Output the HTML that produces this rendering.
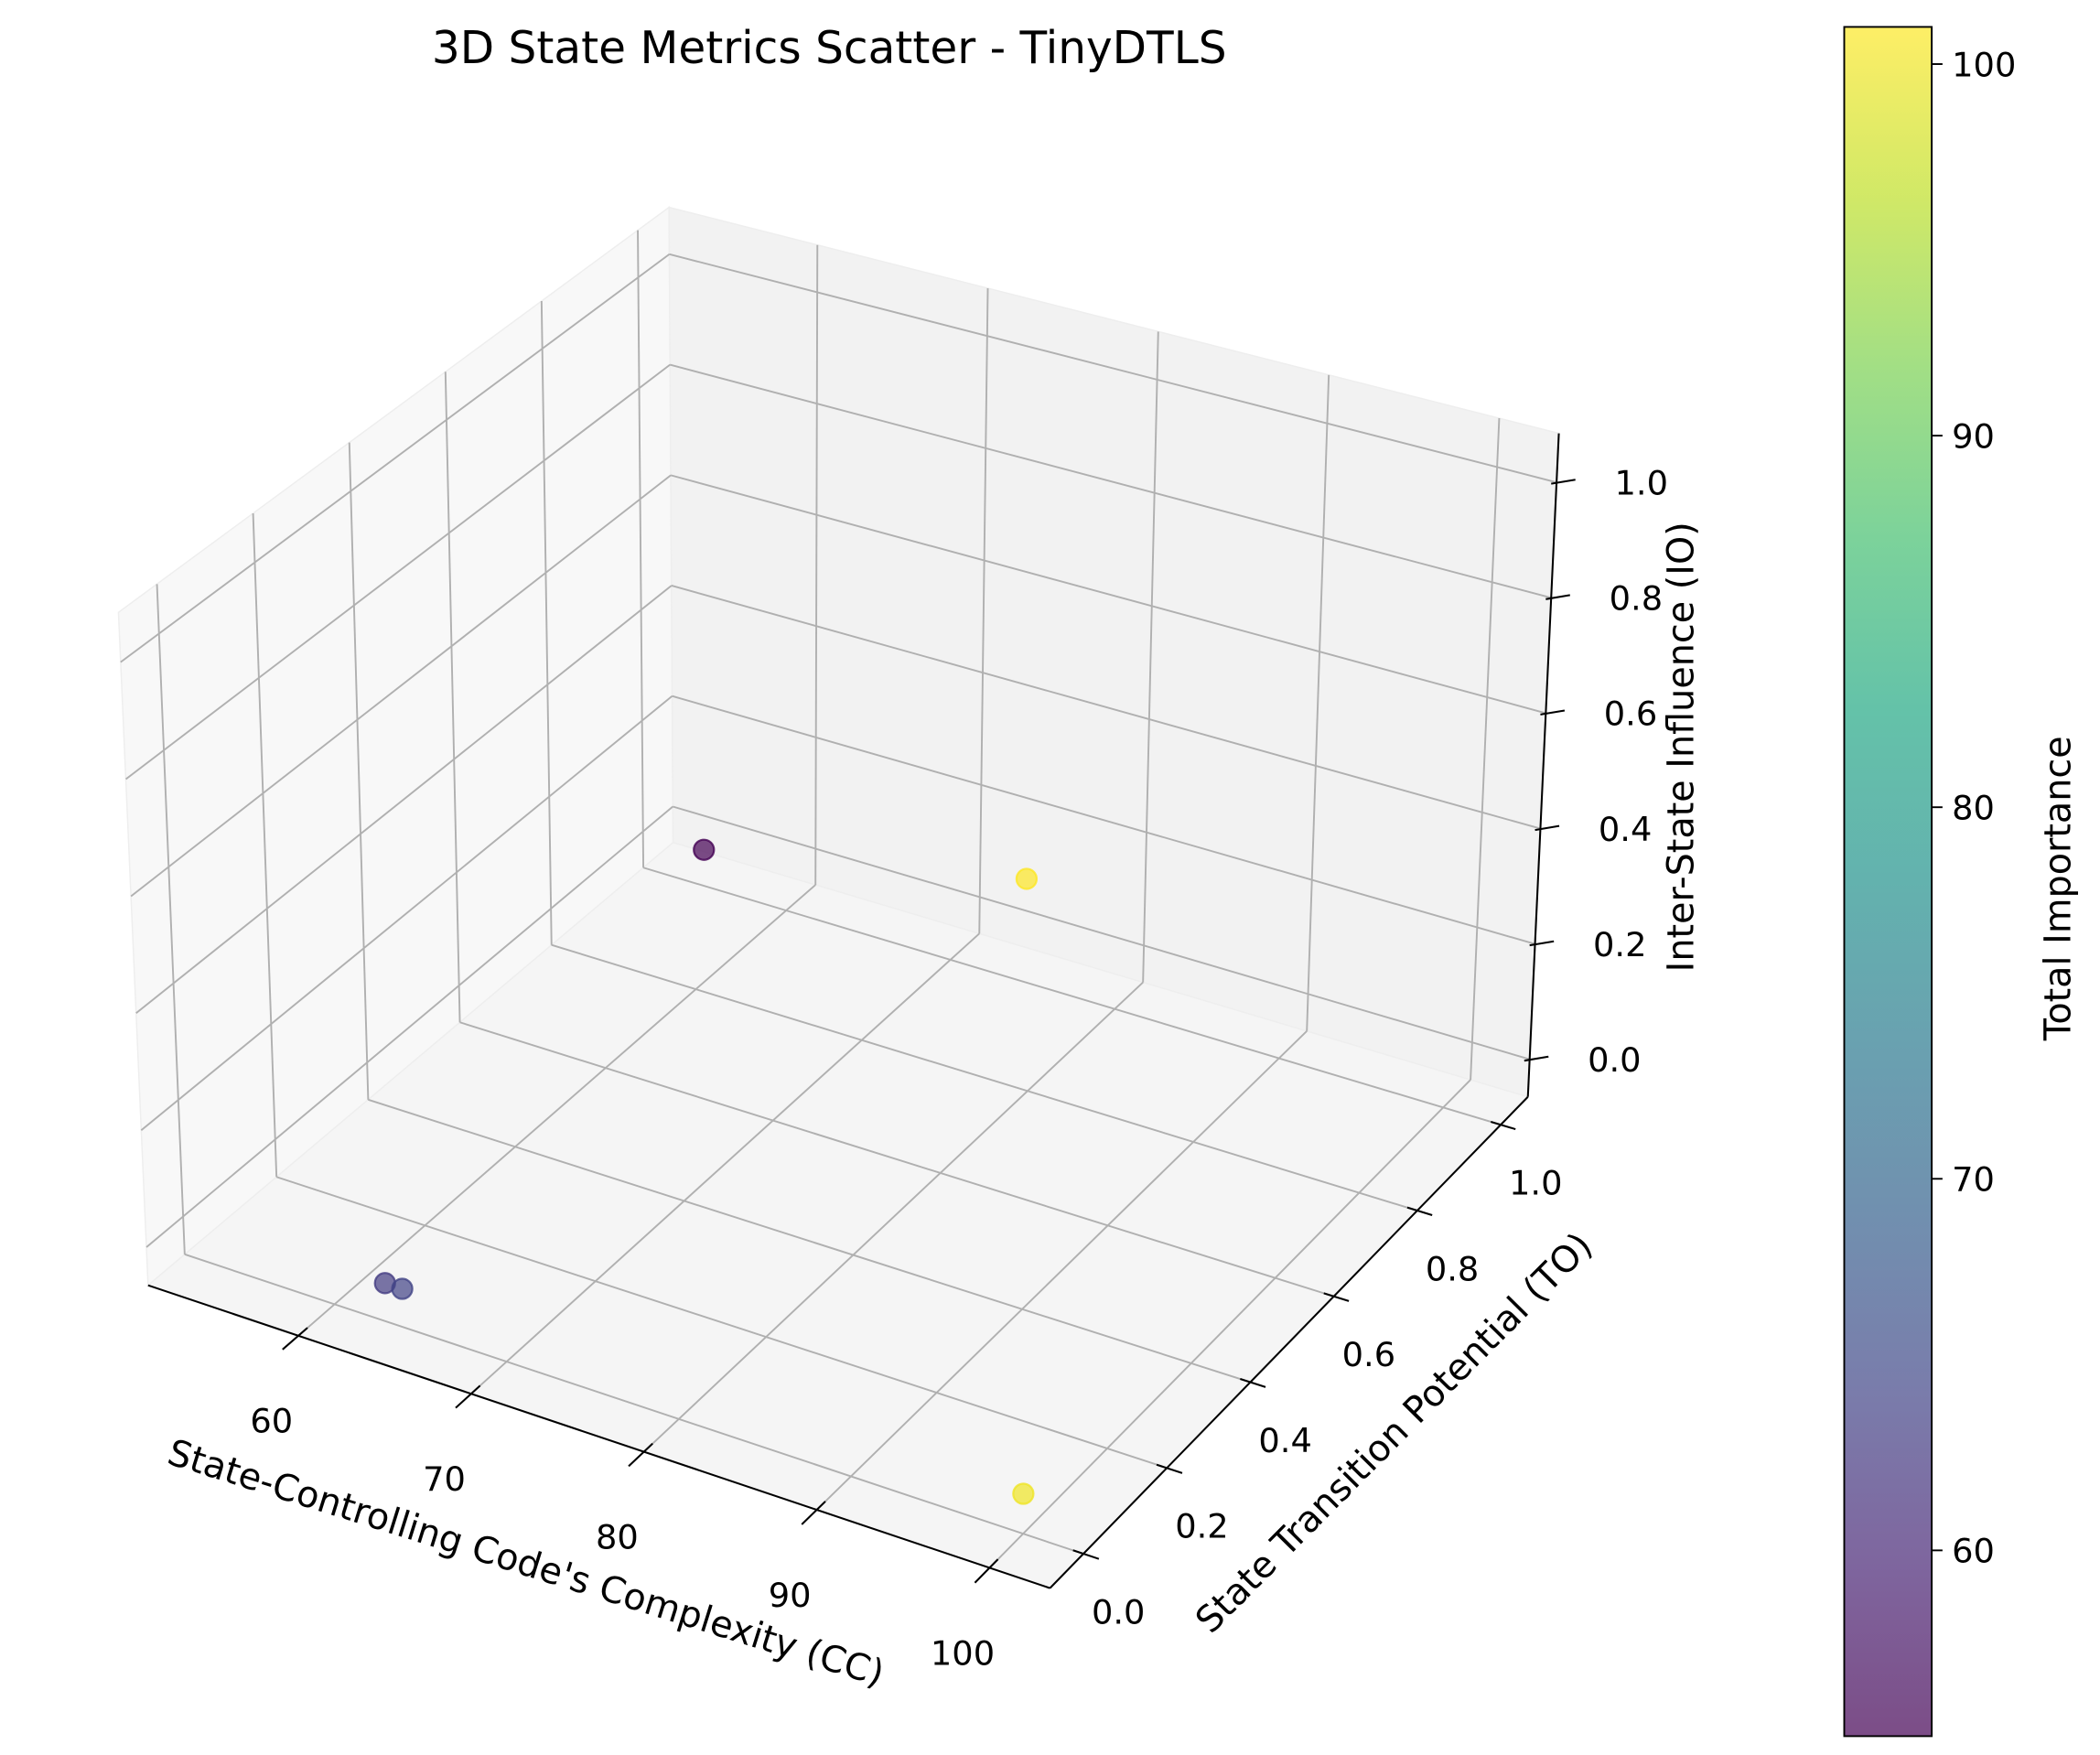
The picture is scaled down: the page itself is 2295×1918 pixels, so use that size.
<!DOCTYPE html>
<html><head><meta charset="utf-8"><title>3D State Metrics Scatter - TinyDTLS</title>
<style>html,body{margin:0;padding:0;background:#fff}svg{display:block}text{font-family:"DejaVu Sans","Liberation Sans",sans-serif;fill:#000}</style>
</head><body>
<svg id="chart" xmlns="http://www.w3.org/2000/svg" width="2295" height="1918" viewBox="0 0 1560 1304" preserveAspectRatio="none">
<defs>
<linearGradient id="viridis" x1="0" y1="1" x2="0" y2="0">
<stop offset="0" stop-color="#440154"/><stop offset="0.1" stop-color="#482475"/><stop offset="0.2" stop-color="#414487"/><stop offset="0.3" stop-color="#355f8d"/><stop offset="0.4" stop-color="#2a788e"/><stop offset="0.5" stop-color="#21918c"/><stop offset="0.6" stop-color="#22a884"/><stop offset="0.7" stop-color="#44bf70"/><stop offset="0.8" stop-color="#7ad151"/><stop offset="0.9" stop-color="#bddf26"/><stop offset="1" stop-color="#fde725"/>
</linearGradient>
</defs>
<text x="616" y="47" font-size="33" text-anchor="middle">3D State Metrics Scatter - TinyDTLS</text>
<g id="panes"></g><g id="grid"></g><g id="axes"></g><g id="points"></g>
<text font-size="27" text-anchor="middle" transform="translate(388,1170) rotate(17.4)">State-Controlling Code's Complexity (CC)</text>
<text font-size="27" text-anchor="middle" transform="translate(1042,1071) rotate(-45.3)">State Transition Potential (TO)</text>
<text font-size="27" text-anchor="middle" transform="translate(1258,555) rotate(-90)">Inter-State Influence (IO)</text>
<rect x="1370" y="20" width="65" height="1270" fill="url(#viridis)" fill-opacity="0.7" stroke="#000" stroke-width="1.3"/>
<g id="cbticks"></g>
<text font-size="27" text-anchor="middle" transform="translate(1538,660) rotate(-90)">Total Importance</text>
</svg>
<script>
const cc = [55, 63, 64, 100, 100];
const to = [1.0, 0.0, 0.0, 0.0, 0.0];
const io = [0.0, 0.0, 0.0, 1.0, 0.0];
const total = [55, 63, 64, 101, 100];
const xTicks = [60, 70, 80, 90, 100];
const yTicks = [0.0, 0.2, 0.4, 0.6, 0.8, 1.0];
const zTicks = [0.0, 0.2, 0.4, 0.6, 0.8, 1.0];
const cbTicks = [60, 70, 80, 90, 100];

const XL=[51.3,103.5], YL=[-0.08,1.065], ZL=[-0.065,1.085];
const C = {
 b00:[110,955], b10:[780,1180], b11:[1135,815], b01:[500,626],
 t00:[88,455], t10:[783,650], t11:[1158,322], t01:[497,154]
};
function bil(a,b,c,d,u,v){
 return [a[0]*(1-u)*(1-v)+b[0]*u*(1-v)+c[0]*u*v+d[0]*(1-u)*v,
         a[1]*(1-u)*(1-v)+b[1]*u*(1-v)+c[1]*u*v+d[1]*(1-u)*v];
}
function P(x,y,z){
 const u=(x-XL[0])/(XL[1]-XL[0]), v=(y-YL[0])/(YL[1]-YL[0]), w=(z-ZL[0])/(ZL[1]-ZL[0]);
 const f=bil(C.b00,C.b10,C.b11,C.b01,u,v), t=bil(C.t00,C.t10,C.t11,C.t01,u,v);
 return [f[0]*(1-w)+t[0]*w, f[1]*(1-w)+t[1]*w];
}
const NS='http://www.w3.org/2000/svg';
function el(tag,attrs,parent){const e=document.createElementNS(NS,tag);for(const k in attrs)e.setAttribute(k,attrs[k]);parent.appendChild(e);return e;}
function poly(pts){return pts.map(p=>p[0].toFixed(1)+','+p[1].toFixed(1)).join(' ');}
const panes=document.getElementById('panes'), grid=document.getElementById('grid'), axes=document.getElementById('axes'), pts=document.getElementById('points'), cbt=document.getElementById('cbticks');

let e;
e=el('polygon',{points:poly([P(XL[0],YL[0],ZL[0]),P(XL[0],YL[1],ZL[0]),P(XL[0],YL[1],ZL[1]),P(XL[0],YL[0],ZL[1])]),fill:'#f8f8f8',stroke:'#eeeeee','stroke-width':1},panes);

e=el('polygon',{points:poly([P(XL[0],YL[1],ZL[0]),P(XL[1],YL[1],ZL[0]),P(XL[1],YL[1],ZL[1]),P(XL[0],YL[1],ZL[1])]),fill:'#f2f2f2',stroke:'#eeeeee','stroke-width':1},panes);

e=el('polygon',{points:poly([P(XL[0],YL[0],ZL[0]),P(XL[1],YL[0],ZL[0]),P(XL[1],YL[1],ZL[0]),P(XL[0],YL[1],ZL[0])]),fill:'#f5f5f5',stroke:'#eeeeee','stroke-width':1},panes);


function gl(pa,pb,name){const l=el('polyline',{points:poly([pa,pb]),fill:'none',stroke:'#b0b0b0','stroke-width':1.3},grid);}
xTicks.forEach(x=>{gl(P(x,YL[0],ZL[0]),P(x,YL[1],ZL[0]),'x-gridline');gl(P(x,YL[1],ZL[0]),P(x,YL[1],ZL[1]),'x-gridline');});
yTicks.forEach(y=>{gl(P(XL[0],y,ZL[0]),P(XL[1],y,ZL[0]),'y-gridline');gl(P(XL[0],y,ZL[0]),P(XL[0],y,ZL[1]),'y-gridline');});
zTicks.forEach(z=>{gl(P(XL[0],YL[0],z),P(XL[0],YL[1],z),'z-gridline');gl(P(XL[0],YL[1],z),P(XL[1],YL[1],z),'z-gridline');});

function ax(pa,pb,name){const l=el('polyline',{points:poly([pa,pb]),fill:'none',stroke:'#000','stroke-width':1.4},axes);}
ax(P(XL[0],YL[0],ZL[0]),P(XL[1],YL[0],ZL[0]),'x-axis-line');
ax(P(XL[1],YL[0],ZL[0]),P(XL[1],YL[1],ZL[0]),'y-axis-line');
ax(P(XL[1],YL[1],ZL[0]),P(XL[1],YL[1],ZL[1]),'z-axis-line');
function lbl(p,txt,name,anchor){const t=el('text',{x:p[0].toFixed(1),y:p[1].toFixed(1),'font-size':25,'text-anchor':anchor||'middle'},axes);t.textContent=txt;}
xTicks.forEach(x=>{ax(P(x,YL[0]-0.035,ZL[0]),P(x,YL[0]+0.02,ZL[0]),'x-tick');const p=P(x,YL[0],ZL[0]);lbl([p[0]-20,p[1]+72],String(x),'x-tick-label');});
yTicks.forEach(y=>{ax(P(XL[1]-0.6,y,ZL[0]),P(XL[1]+0.9,y,ZL[0]),'y-tick');const p=P(XL[1],y,ZL[0]);lbl([p[0]+26,p[1]+52],y.toFixed(1),'y-tick-label');});
zTicks.forEach(z=>{const p=P(XL[1],YL[1],z);ax([p[0]-4,p[1]+1],[p[0]+14,p[1]-2],'z-tick');lbl([p[0]+63,p[1]+9],z.toFixed(1),'z-tick-label');});

const vir=['#440154','#482475','#414487','#355f8d','#2a788e','#21918c','#22a884','#44bf70','#7ad151','#bddf26','#fde725'];
function hx(h){return[parseInt(h.substr(1,2),16),parseInt(h.substr(3,2),16),parseInt(h.substr(5,2),16)];}
function cmap(t){t=Math.max(0,Math.min(1,t));const s=t*10,i=Math.min(9,Math.floor(s)),f=s-i;const a=hx(vir[i]),b=hx(vir[i+1]);return 'rgb('+a.map((v,k)=>Math.round(v+(b[k]-v)*f)).join(',')+')';}
const vmin=Math.min(...total), vmax=Math.max(...total);
const cbTop=20, cbBot=1290;
function cbY(v){return cbBot-(v-vmin)/(vmax-vmin)*(cbBot-cbTop);}
cbTicks.forEach(v=>{const y=cbY(v);const l=el('line',{x1:1435,y1:y,x2:1443,y2:y,stroke:'#000','stroke-width':1.3},cbt);
 const t=el('text',{x:1450,y:y+9,'font-size':25},cbt);t.textContent=String(v);});
const idx=cc.map((_,i)=>i).sort((a,b)=>to[b]-to[a]||io[a]-io[b]);
idx.forEach(i=>{const p=P(cc[i],to[i],io[i]);const col=cmap((total[i]-vmin)/(vmax-vmin));
 const c=el('circle',{cx:p[0].toFixed(1),cy:p[1].toFixed(1),r:7.5,fill:col,'fill-opacity':0.7,stroke:col,'stroke-opacity':0.8,'stroke-width':1.5},pts);
 });
</script>
</body></html>
